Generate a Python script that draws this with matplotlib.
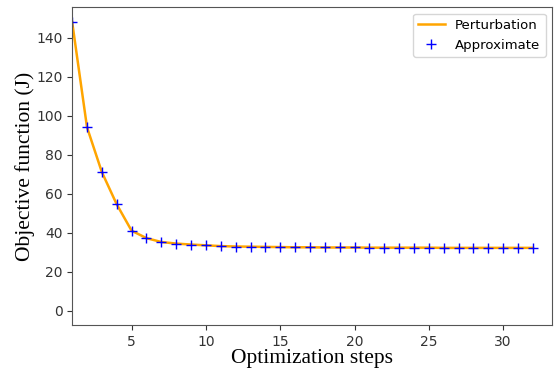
import numpy as np
import matplotlib
matplotlib.use("Agg")
import matplotlib.pyplot as plt

steps = np.arange(1, 33)
objective = [148, 94, 71, 54.5, 41, 37.2, 35.2, 34.4, 33.9, 33.5,
             33.1, 32.9, 32.8, 32.7, 32.6, 32.5, 32.5, 32.4, 32.4, 32.4,
             32.3, 32.3, 32.3, 32.3, 32.3, 32.2, 32.2, 32.2, 32.2, 32.2,
             32.2, 32.2]

fig = plt.figure(figsize=(5.55, 3.75), dpi=100)
ax = fig.add_axes([0.13, 0.133, 0.865, 0.848])
ax.plot(steps, objective, color="orange", lw=1.8, label="Perturbation")
ax.plot(steps, objective, "+", color="blue", ms=6.5, mew=1.0, label="Approximate")
ax.set_xlim(1, 33.3)
ax.set_ylim(-7.4, 155.6)
ax.set_xticks([5, 10, 15, 20, 25, 30])
ax.set_yticks(range(0, 141, 20))
ax.tick_params(labelsize=10, colors="#333333")
for s in ax.spines.values():
    s.set_color("#555555")
ax.set_xlabel("Optimization steps", family="Liberation Serif", fontsize=15.5, labelpad=0)
ax.set_ylabel("Objective function (J)", family="Liberation Serif", fontsize=15.5, labelpad=1)
ax.legend(loc="upper right", fontsize=9.5)
fig.savefig("out.png", dpi=100)
